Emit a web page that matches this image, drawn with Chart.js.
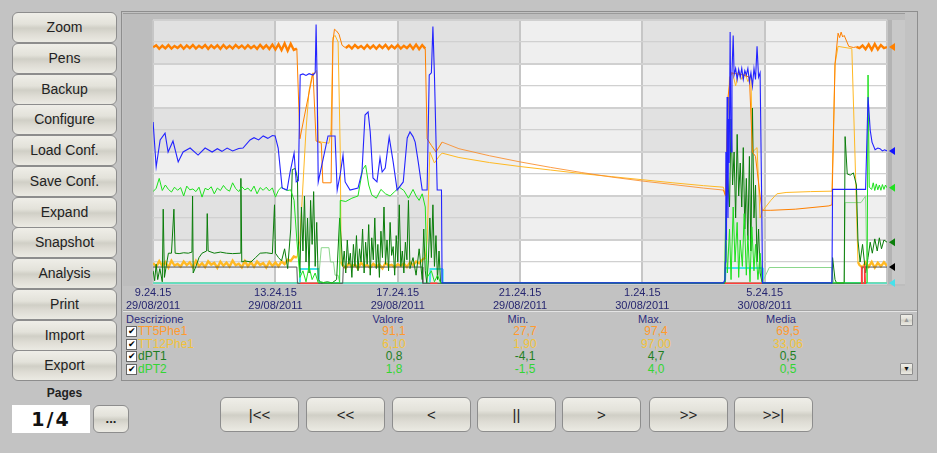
<!DOCTYPE html>
<html>
<head>
<meta charset="utf-8">
<script src="https://cdn.jsdelivr.net/npm/chart.js@4.4.1/dist/chart.umd.min.js"></script>
<style>
body{margin:0;width:937px;height:453px;background:#c3c3c3;position:relative;overflow:hidden;font-family:'Liberation Sans',Arial,sans-serif;}
.btn{position:absolute;box-sizing:border-box;border:1px solid #8d8d8d;border-radius:6px;background:linear-gradient(#efeee8,#e3e2da 38%,#d0cfc6 52%,#dedcd4 72%,#ebeae3);color:#222;text-align:center;}
.side{left:12px;width:105px;height:31px;line-height:29px;font-size:14px;}
.nav{top:397px;width:79px;height:35px;line-height:33px;font-size:15px;color:#222;}
.t{position:absolute;font-size:12px;line-height:13px;white-space:nowrap;}
.c{text-align:center;width:60px;}
.hd{color:#2c2c7c;font-size:11px;}
.cb{position:absolute;left:126px;width:9px;height:9px;background:#fff;border:1px solid #666;font-size:9px;line-height:9px;text-align:center;color:#000;}
</style>
</head>
<body>
<div class="btn side" style="top:12px">Zoom</div>
<div class="btn side" style="top:43px">Pens</div>
<div class="btn side" style="top:74px">Backup</div>
<div class="btn side" style="top:104px">Configure</div>
<div class="btn side" style="top:135px">Load Conf.</div>
<div class="btn side" style="top:166px">Save Conf.</div>
<div class="btn side" style="top:197px">Expand</div>
<div class="btn side" style="top:227px">Snapshot</div>
<div class="btn side" style="top:258px">Analysis</div>
<div class="btn side" style="top:289px">Print</div>
<div class="btn side" style="top:320px">Import</div>
<div class="btn side" style="top:350px">Export</div>

<div style="position:absolute;left:12px;top:386px;width:105px;text-align:center;font-size:12px;font-weight:bold;color:#222">Pages</div>
<div style="position:absolute;left:12px;top:405px;width:78px;height:28px;background:#fff;text-align:center;font-family:'DejaVu Sans',sans-serif;font-size:19px;font-weight:bold;line-height:28px;color:#111;letter-spacing:2px">1/4</div>
<div class="btn" style="left:93px;top:405px;width:36px;height:28px;line-height:26px;font-size:13px;font-weight:bold">...</div>

<div style="position:absolute;left:121px;top:11px;width:797px;height:370px;box-sizing:border-box;border:1px solid #8e8e8e;background:#c2c2c2"></div>
<div style="position:absolute;left:123px;top:13px;width:782px;height:272px;background:#bdbdbd;border-top:1px solid #9a9a9a"></div>
<div style="position:absolute;left:887px;top:20px;width:18px;height:264px;background:#c8c8c8;border-left:5px solid #b3b3b3;box-sizing:border-box"></div>
<div style="position:absolute;left:123px;top:310px;width:794px;height:1px;background:#a4a4a4"></div>
<div style="position:absolute;left:123px;top:311px;width:794px;height:1px;background:#e4e4e4"></div>

<div style="position:absolute;left:123px;top:12px;width:782px;height:300px"><canvas id="trend"></canvas></div>

<div class="t hd" style="left:126px;top:313px">Descrizione</div>
<div class="t hd c" style="left:358px;top:313px">Valore</div>
<div class="t hd c" style="left:488px;top:313px">Min.</div>
<div class="t hd c" style="left:620px;top:313px">Max.</div>
<div class="t hd c" style="left:751px;top:313px">Media</div>
<div id="rows"></div>
<div class="btn" style="left:900px;top:314px;width:13px;height:12px;border-radius:1px;font-size:7px;line-height:10px;color:#999">▲</div>
<div class="btn" style="left:900px;top:363px;width:13px;height:12px;border-radius:1px;font-size:7px;line-height:10px;color:#111">▼</div>

<div class="btn nav" style="left:220px">|&lt;&lt;</div>
<div class="btn nav" style="left:306px">&lt;&lt;</div>
<div class="btn nav" style="left:392px">&lt;</div>
<div class="btn nav" style="left:477px">||</div>
<div class="btn nav" style="left:562px">&gt;</div>
<div class="btn nav" style="left:649px">&gt;&gt;</div>
<div class="btn nav" style="left:734px">&gt;&gt;|</div>

<script>
// time axis: hours since 9.24.15 on 29/08/2011, one grid column = 4 h
const timeLabels = ['9.24.15', '13.24.15', '17.24.15', '21.24.15', '1.24.15', '5.24.15'];
const dateLabels = ['29/08/2011', '29/08/2011', '29/08/2011', '29/08/2011', '30/08/2011', '30/08/2011'];

// pen table
const penNames = ['TT5Phe1', 'TT12Phe1', 'dPT1', 'dPT2'];
const penValore = ['91,1', '6,10', '0,8', '1,8'];
const penMin = ['27,7', '1,90', '-4,1', '-1,5'];
const penMax = ['97,4', '97,00', '4,7', '4,0'];
const penMedia = ['69,5', '33,06', '0,5', '0,5'];
const penTextColors = ['#ff9a2e', '#f2c23a', '#1f7f1f', '#33d633'];

// traces, [hour, value] (value in % of pen range)
const tt5Phe1 = [
  [0,107.6],[0.1,108.5],[0.2,106.9],[0.3,108.3],[0.4,107.1],[0.5,108.6],[0.6,107.0],[0.7,108.2],[0.8,107.3],[0.9,108.5],
  [1.0,106.9],[1.1,108.4],[1.2,107.2],[1.3,108.6],[1.4,107.0],[1.5,108.3],[1.6,107.3],[1.7,108.6],[1.8,106.9],[1.9,108.4],
  [2.0,107.2],[2.1,108.5],[2.2,106.9],[2.3,108.6],[2.4,107.1],[2.5,108.3],[2.6,107.0],[2.7,108.6],[2.8,107.3],[2.9,108.4],
  [3.0,107.0],[3.1,108.5],[3.2,107.2],[3.3,108.3],[3.4,106.9],[3.5,108.7],[3.6,107.1],[3.7,108.5],[3.8,106.8],[3.9,108.8],
  [4.0,106.6],[4.1,109.0],[4.2,106.3],[4.3,109.3],[4.4,106.0],[4.5,109.2],[4.6,106.4],[4.7,107.0],
  [4.8,66],[5.0,80],[5.23,96],[5.33,65],[5.5,64],[5.55,46],[5.82,46],[5.88,110],[5.93,115.8],[6.0,115],[6.08,113.5],[6.18,108.5],
  [6.3,107.3],[6.4,108.4],[6.5,107.0],[6.6,108.6],[6.7,107.3],[6.8,108.2],[6.9,106.9],[7.0,108.6],[7.1,107.1],[7.2,108.4],
  [7.3,106.9],[7.4,108.5],[7.5,107.2],[7.6,108.7],[7.7,106.9],[7.8,108.3],[7.9,107.1],[8.0,108.6],[8.1,107.0],[8.2,108.3],
  [8.3,107.2],[8.4,108.7],[8.5,106.8],[8.6,108.8],[8.7,106.7],[8.8,108.6],[8.9,107.0],
  [8.96,66],[9.1,63],[9.25,60],[9.45,64.5],[10,61.5],[11,58.3],[12,55.5],[13,53.0],[14,50.7],[15,48.6],[16,46.8],[17,45.2],[18,43.6],[18.65,42.7],
  [18.72,40],[18.8,85],[18.9,96],[19.3,95],[19.5,94],[19.6,60],[19.7,58],[19.85,40],[19.92,33.5],[20.2,33.5],[21,34],[22.1,35.5],[22.2,36],
  [22.3,100],[22.4,114],[22.45,112],[22.5,114.5],[22.55,112.3],[22.6,113],[22.75,108],[22.9,107.5],
  [23.0,107.8],[23.1,107.2],[23.2,108.4],[23.3,106.7],[23.4,108.9],[23.5,106.4],[23.6,109.1],[23.7,106.6],[23.8,108.6],[23.9,107.2],[24,107.7]
];
const tt12Phe1 = [
  [0,9.5],[0.1,7.8],[0.2,10.4],[0.3,8.2],[0.4,9.9],[0.5,7.5],[0.6,10.6],[0.7,8.4],[0.8,9.1],[0.9,7.9],
  [1.0,10.2],[1.1,8.6],[1.2,9.8],[1.3,7.6],[1.4,10.5],[1.5,8.1],[1.6,9.4],[1.7,7.7],[1.8,10.3],[1.9,8.8],
  [2.0,9.6],[2.1,7.4],[2.2,10.1],[2.3,8.3],[2.4,9.7],[2.5,7.9],[2.6,10.6],[2.7,8.5],[2.8,9.2],[2.9,7.6],
  [3.0,10.4],[3.1,8.0],[3.2,9.9],[3.3,7.8],[3.4,10.2],[3.5,8.7],[3.6,9.5],[3.7,7.5],[3.8,10.0],[3.9,8.2],
  [4.0,9.8],[4.1,8.0],[4.2,10.3],[4.3,9.0],[4.4,11.0],[4.5,10.5],[4.6,12.5],[4.7,12],
  [4.8,20],[4.9,45],[5.0,70],[5.1,88],[5.2,95],[5.35,97],[5.4,65],[5.5,64.5],[5.75,64],[5.82,70],[5.88,112],[5.95,113],[6.05,110],[6.12,60],[6.15,10],
  [6.2,8.5],[6.3,7.2],[6.4,9.4],[6.5,7.8],[6.6,8.9],[6.7,7.0],[6.8,9.6],[6.9,8.1],[7.0,8.6],[7.1,7.4],
  [7.2,9.2],[7.3,7.9],[7.4,8.8],[7.5,7.1],[7.6,9.5],[7.7,8.3],[7.8,8.7],[7.9,7.6],[8.0,9.0],[8.1,8.2],
  [8.2,9.3],[8.3,7.7],[8.4,9.8],[8.5,8.5],[8.6,10.2],[8.7,9.4],[8.8,11.0],[8.9,12],
  [8.96,20],[9.05,60],[9.2,55],[9.35,58],[9.45,59.5],[10,57.5],[11,55.2],[12,53.4],[13,51.8],[14,50.2],[15,48.8],[16,47.4],[17,46.0],[18,44.7],[18.65,44.0],
  [18.72,40],[18.78,70],[18.85,94],[18.95,96],[19.05,90],[19.15,97],[19.25,93],[19.35,96],[19.45,92],[19.55,95],[19.6,60],[19.75,62],[19.85,30],[19.92,33],
  [20.2,38],[20.4,41],[20.7,41.6],[21.5,42],[22.2,42.2],[22.3,100],[22.4,108],[22.85,107],[22.95,60],[23.05,10],
  [23.1,8.6],[23.2,7.5],[23.3,9.8],[23.4,7.8],[23.5,10.0],[23.6,7.4],[23.7,9.6],[23.8,8.0],[23.9,9.9],[24,8.2]
];
const dPT1 = [
  [0,6],[0.05,1.5],[0.1,9],[0.15,2],[0.22,7],[0.3,1],[0.33,34],[0.37,3],[0.45,10],[0.5,14],[0.6,14],[0.68,34],[0.72,14],
  [0.85,13.8],[1.0,14.2],[1.15,14],[1.27,14.5],[1.29,40],[1.31,5],[1.4,8],[1.5,12],[1.6,14],[1.75,15],[1.77,32],[1.8,15],
  [2.0,14],[2.2,14.5],[2.4,14],[2.6,13.8],[2.85,14],[2.87,48],[2.9,10],[3.0,10.5],[3.2,10],[3.35,12],[3.5,14],[3.7,14.2],
  [3.9,13.8],[3.97,36],[4.0,14],[4.1,12],[4.2,10.5],[4.3,16],[4.4,7],[4.5,25],[4.55,52],[4.65,52.5],[4.72,48],[4.75,20],[4.8,5],
  [4.85,35],[4.9,15],[4.95,40],[5.0,10],[5.05,30],[5.1,5],[5.15,38],[5.2,18],[5.25,42],[5.3,8],[5.35,28],[5.4,2],
  [5.5,0.5],[5.7,1],[5.85,0.5],[6.0,2],[6.1,30],[6.15,20],[6.2,8],
  [6.25,15],[6.3,5],[6.35,20],[6.4,9],[6.45,14],[6.5,3],[6.55,18],[6.6,8],[6.65,22],[6.7,6],[6.75,16],[6.8,10],[6.85,25],[6.9,5],
  [6.95,19],[7.0,9],[7.05,27],[7.1,4],[7.15,21],[7.2,11],[7.25,30],[7.3,7],[7.35,18],[7.4,3],[7.45,24],[7.5,12],[7.55,35],[7.6,9],
  [7.65,20],[7.7,6],[7.75,28],[7.8,13],[7.85,17],[7.9,4],[7.95,22],[8.0,10],[8.05,36],[8.1,8],[8.15,15],[8.2,5],[8.25,19],[8.3,11],
  [8.35,38],[8.4,7],[8.5,12],[8.6,4],[8.7,16],[8.8,2],[8.85,25],[8.9,6],[8.95,0.5],[9.0,10],[9.05,30],[9.1,12],[9.15,36],[9.2,8],
  [9.25,22],[9.3,2],[9.35,15],[9.4,0.5],[18.7,0.5],
  [18.72,25],[18.78,50],[18.85,35],[18.9,75],[18.95,45],[19.0,60],[19.05,30],[19.1,68],[19.15,40],[19.2,55],[19.25,35],[19.3,62],
  [19.35,25],[19.4,48],[19.45,20],[19.5,58],[19.55,15],[19.6,80],[19.65,30],[19.7,45],[19.75,10],[19.8,25],[19.85,5],[19.92,0.5],
  [22.2,0.5],[22.22,12],[22.3,2],[22.35,0.5],[22.6,0.5],[22.63,67],[22.7,50],[22.8,49.5],[22.9,50.5],[23.0,45],[23.05,20],
  [23.12,10],[23.2,18],[23.3,5],[23.38,12],[23.45,19],[23.52,14],[23.6,20.5],[23.68,15],[23.75,21],[23.82,16],[23.9,20],[24,19]
];
const dPT2 = [
  [0,42],[0.1,43.5],[0.2,48],[0.3,42.5],[0.4,45],[0.5,43],[0.6,41.8],[0.7,44],[0.8,42.6],[0.9,43.8],
  [1.0,40],[1.1,44.5],[1.2,42.8],[1.3,43.2],[1.4,42],[1.5,44],[1.6,39.5],[1.7,43.5],[1.8,42.8],[1.9,44.2],
  [2.0,41],[2.1,43.6],[2.2,42.5],[2.3,44.8],[2.4,43],[2.5,42.2],[2.6,46],[2.7,43.4],[2.8,42],[2.9,44.2],
  [3.0,42.8],[3.1,43.6],[3.2,42.1],[3.3,44.5],[3.4,41],[3.5,43.8],[3.6,42.6],[3.7,44],[3.8,42.3],[3.9,43.7],
  [4.0,39.5],[4.1,42.6],[4.2,44.1],[4.3,43],[4.4,42.5],[4.5,42.8],[4.61,38],[4.7,20],[4.8,3],[4.9,6],[5.0,1],[5.1,8],
  [5.2,2],[5.3,5],[5.4,0.5],[5.5,1],[5.6,0.5],[6.1,0.5],[6.12,38],[6.3,37.5],[6.5,39],[6.7,40],[6.85,52],[6.95,54],[7.05,45],
  [7.15,40.5],[7.3,39],[7.45,43],[7.6,41],[7.75,40],[7.9,42],[8.05,44],[8.2,42.5],[8.35,39],[8.5,43],[8.6,40],[8.7,38],[8.8,41],
  [8.9,35],[8.96,3],[9.1,6],[9.2,1],[9.3,4],[9.4,0.5],[18.7,0.5],
  [18.72,30],[18.78,5],[18.85,25],[18.9,2],[18.97,35],[19.03,10],[19.1,28],[19.15,3],[19.2,20],[19.27,8],[19.33,32],[19.4,4],
  [19.45,22],[19.52,1],[19.58,26],[19.65,6],[19.7,18],[19.78,2],[19.85,14],[19.92,0.5],[23.35,0.5],[23.38,95],[23.42,44],
  [23.5,43],[23.55,46],[23.6,42.5],[23.65,45.5],[23.7,42.8],[23.75,45],[23.8,42.6],[23.85,45.2],[23.9,43],[23.95,45],[24,43.7]
];
const pen5 = [
  [0,73.6],[0.1,53.2],[0.23,65.5],[0.39,68.6],[0.49,60],[0.65,65],[0.82,55.5],[0.98,60],[1.21,61.8],[1.47,58.6],[1.7,61.8],
  [1.93,60],[2.1,61.5],[2.25,60.3],[2.42,61.8],[2.6,60.5],[2.8,61.6],[2.94,61.8],[3.17,65.5],[3.3,66.5],[3.45,65.5],[3.6,67.3],
  [3.75,66.2],[3.9,67.5],[3.99,67.3],[4.09,61.8],[4.22,43.6],[4.38,42.7],[4.48,50.9],[4.61,59.5],[4.68,46.4],[4.75,47],
  [4.81,95],[4.9,95.5],[5.0,94.8],[5.1,95.6],[5.23,95],[5.3,96],[5.33,118],[5.36,95],[5.4,46.4],[5.72,67.3],[5.95,67.3],
  [6.02,42.7],[6.12,50],[6.21,58.6],[6.28,46.4],[6.44,42.7],[6.7,43.6],[6.83,50.9],[6.93,76.8],[7.03,78.2],[7.1,69.1],
  [7.19,48.2],[7.32,46.4],[7.42,57.3],[7.49,50.9],[7.59,52.7],[7.72,66.8],[7.85,55.5],[7.98,42.7],[8.18,46.4],[8.31,66.4],
  [8.4,69.1],[8.5,67],[8.57,64.5],[8.67,55.5],[8.8,42.7],[8.96,42.7],[9.03,95],[9.1,96],[9.15,117],[9.2,95],[9.29,42.7],
  [9.43,42.7],[9.45,0.5],[18.65,0.5],
  [18.7,2],[18.71,10],[18.73,60],[18.75,20],[18.77,85],[18.8,30],[18.82,75],[18.84,55],[18.87,114.5],[18.9,60],[18.93,96],
  [18.97,113],[19.0,95],[19.05,98],[19.1,93],[19.15,97.5],[19.2,94],[19.25,98],[19.3,93],[19.35,97],[19.4,95],[19.45,98],
  [19.5,92],[19.55,96],[19.6,90],[19.65,98],[19.7,93],[19.75,108],[19.8,94],[19.85,96],[19.9,40],[19.93,0.5],
  [22.2,0.5],[22.22,43],[23.3,43],[23.38,85],[23.45,70],[23.51,64.5],[23.61,61],[23.7,61.8],[23.77,61.5],[23.85,60.5],[23.92,61],[24,60.5]
];
const pen6 = [[0,7.7],[4.7,7.7],[4.72,0.3],[6.2,0.3],[6.22,7.7],[8.8,7.7],[8.82,0.3],[23.17,0.3],[23.19,7.7],[24,7.7]];
const pen7 = [[0,0.4],[4.8,0.4],[4.81,6.8],[5.4,6.8],[5.42,0.4],[9.05,0.4],[9.07,6.8],[9.45,6.8],[9.47,0.4],
  [18.7,0.4],[18.72,7.3],[19.92,7.3],[19.94,0.4],[24,0.4]];
const pen8 = [[4.81,0.3],[5.4,0.3],[5.41,null],[9.06,0.3],[9.3,0.3],[9.31,null],[18.7,0.3],[19.9,0.3],[19.91,null],
  [23.15,0],[23.17,8],[23.19,0],[23.25,0],[23.27,8.5],[23.29,0]];
const pen9 = [[0,0.5],[5.4,0.5],[5.5,16.5],[5.75,16.5],[5.8,10],[5.9,10],[5.95,4],[6.05,4],[6.1,0.5],[19.92,0.5],
  [20.05,4.5],[20.15,7.5],[22.2,7.5],[22.25,0.5],[22.6,0.5],[22.63,37],[23.15,37],[23.3,40],[23.35,0.5],[24,0.5]];

// table rows
const rows = document.getElementById('rows');
penNames.forEach((name, i) => {
  const top = 325 + i * 12.5;
  const col = penTextColors[i];
  rows.insertAdjacentHTML('beforeend',
    `<div class="cb" style="top:${top + 1}px">✔</div>` +
    `<div class="t" style="left:138px;top:${top}px;color:${col}">${name}</div>` +
    `<div class="t c" style="left:364px;top:${top}px;color:${col}">${penValore[i]}</div>` +
    `<div class="t c" style="left:495px;top:${top}px;color:${col}">${penMin[i]}</div>` +
    `<div class="t c" style="left:626px;top:${top}px;color:${col}">${penMax[i]}</div>` +
    `<div class="t c" style="left:758px;top:${top}px;color:${col}">${penMedia[i]}</div>`);
});

const toXY = arr => arr.map(p => ({x: p[0], y: p[1]}));

// alternating column / band shading of the plot area
const backdrop = {
  id: 'backdrop',
  beforeDraw(chart) {
    const {ctx, scales: {x, y}} = chart;
    const shades = ['#ffffff', '#efefef', '#e1e1e1'];
    for (let c = 0; c < 6; c++) {
      const x0 = x.getPixelForValue(c * 4), x1 = x.getPixelForValue(c * 4 + 4);
      for (let b = 0; b < 6; b++) {
        const y0 = y.getPixelForValue(b * 20 + 20), y1 = y.getPixelForValue(b * 20);
        ctx.fillStyle = shades[(c % 2 === 0 ? 1 : 0) + (b % 2 === 1 ? 1 : 0)];
        ctx.fillRect(x0, y0, x1 - x0, y1 - y0);
      }
    }
  }
};

// little pen arrows at the right edge, at the last value
const penMarkers = {
  id: 'penMarkers',
  afterDatasetsDraw(chart) {
    const {ctx, chartArea: a} = chart;
    chart.data.datasets.forEach((ds, i) => {
      if (!ds.marker) return;
      const pts = chart.getDatasetMeta(i).data;
      const y = pts[pts.length - 1].y;
      ctx.fillStyle = ds.marker;
      ctx.beginPath();
      ctx.moveTo(a.right + 2, y);
      ctx.lineTo(a.right + 8, y - 4);
      ctx.lineTo(a.right + 8, y + 4);
      ctx.closePath();
      ctx.fill();
    });
  }
};

// noisy stretches of a pen are drawn as a thicker band
const bandWidth = (ranges, thick, thin) => ctx => {
  const a = ctx.p0.parsed.x, b = ctx.p1.parsed.x;
  return ranges.some(r => a >= r[0] && b <= r[1]) ? thick : thin;
};

const line = (data, color, width, marker, extra) => Object.assign({
  data: toXY(data), borderColor: color, borderWidth: width, pointRadius: 0, tension: 0, spanGaps: false, marker
}, extra || {});

new Chart(document.getElementById('trend'), {
  type: 'line',
  data: {
    datasets: [
      line(pen8, 'rgb(255,60,60)', 1.5),
      line(pen5, 'rgb(35,35,255)', 1.1, 'rgb(20,20,255)'),
      line(tt5Phe1, 'rgb(255,128,0)', 1, 'rgb(255,128,0)', {
        segment: {
          borderWidth: bandWidth([[0, 4.71], [6.25, 8.91], [22.95, 24]], 2.4, 1),
          borderColor: ctx => (ctx.p0.parsed.x >= 9.4 && ctx.p1.parsed.x <= 18.66 ? 'rgba(250,140,40,0.85)' : undefined)
        }
      }),
      line(dPT2, 'rgb(30,225,30)', 1, 'rgb(30,225,30)'),
      line(dPT1, 'rgb(10,125,10)', 1, 'rgb(10,125,10)'),
      line(pen6, 'rgb(85,85,85)', 1, 'rgb(0,0,0)'),
      line(tt12Phe1, 'rgb(255,185,35)', 1, undefined, {
        segment: {borderWidth: bandWidth([[0, 4.71], [6.15, 8.91], [23.05, 24]], 2.4, 1)}
      }),
      line(pen9, 'rgb(140,215,140)', 1),
      line(pen7, 'rgb(70,225,235)', 2, 'rgb(70,225,235)')
    ]
  },
  options: {
    responsive: true,
    maintainAspectRatio: false,
    animation: false,
    normalized: true,
    layout: {padding: {left: 30, right: 18, top: 8, bottom: 0}},
    plugins: {legend: {display: false}, tooltip: {enabled: false}},
    scales: {
      x: {
        type: 'linear', min: 0, max: 24,
        afterFit(scale) { scale.height = 28; },
        border: {display: false},
        grid: {color: '#c6c6c6', lineWidth: 2, drawTicks: false},
        ticks: {
          stepSize: 4, autoSkip: false, maxRotation: 0, padding: 3,
          color: '#262670', font: {family: "'Liberation Sans', Arial", size: 11, lineHeight: 1.15},
          callback: v => (v / 4 < timeLabels.length ? [timeLabels[v / 4], dateLabels[v / 4]] : '')
        }
      },
      y: {
        min: 0, max: 120,
        border: {display: false},
        grid: {color: '#d0d0d0', lineWidth: ctx => (ctx.tick && ctx.tick.value % 20 === 0 ? 2 : 1.2), drawTicks: false},
        ticks: {display: false, stepSize: 10}
      }
    }
  },
  plugins: [backdrop, penMarkers]
});
</script>
</body>
</html>
